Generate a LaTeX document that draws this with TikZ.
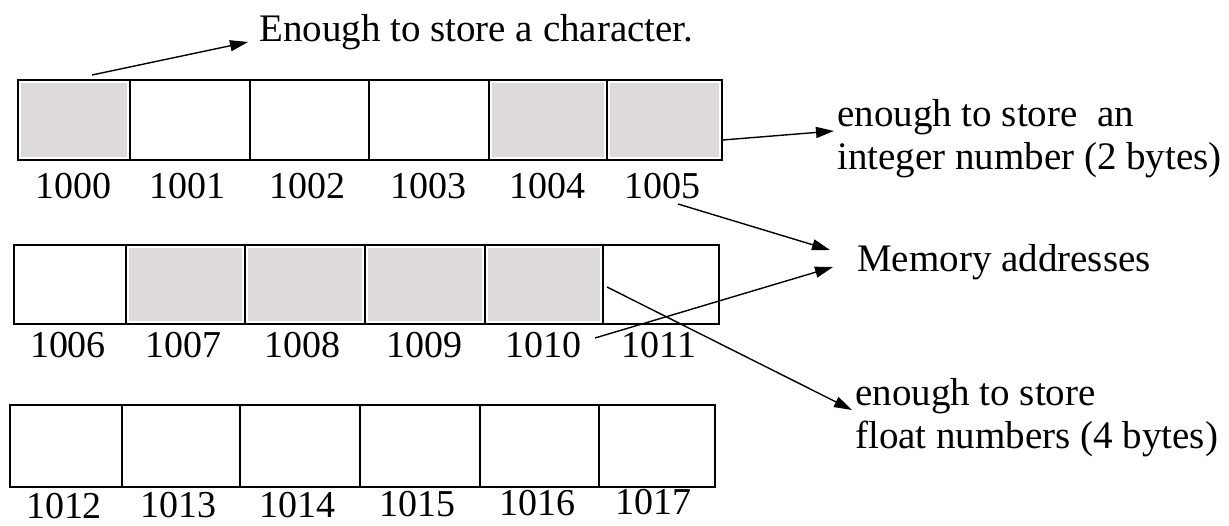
\documentclass[tikz,border=0pt]{standalone}
\usepackage{fontspec}
\setmainfont{Liberation Serif}
\usetikzlibrary{arrows.meta}
\definecolor{cellgray}{RGB}{222,217,219}
\tikzset{
  cell/.style={draw=black, line width=1.6pt, inner sep=0pt},
  plain/.style={},
  shaded/.style={path picture={\fill[cellgray] ([shift={(3pt,-3pt)}]path picture bounding box.north west) rectangle ([shift={(-3pt,3pt)}]path picture bounding box.south east);}},
  addr/.style={font=\fontsize{38}{40}\selectfont, inner sep=0pt},
  note/.style={font=\fontsize{39}{43}\selectfont, align=left, inner sep=0pt, anchor=west},
  arr/.style={line width=1.4pt, -{Triangle[length=18pt,width=11pt]}},
}
\begin{document}
\begin{tikzpicture}[x=1pt,y=-1pt]
\useasboundingbox (0,0) rectangle (1229,526);
% row 1
\foreach \a/\b/\n/\s in {18/130/1000/shaded,130/250/1001/plain,250/369/1002/plain,369/489/1003/plain,489/607/1004/shaded,607/722/1005/shaded}
  \node[cell,\s,minimum width={(\b-\a)*1pt},minimum height=80pt] (c\n) at ({(\a+\b)/2},120) {};
% row 2
\foreach \a/\b/\n/\s in {14/126/1006/plain,126/245/1007/shaded,245/365/1008/shaded,365/485/1009/shaded,485/603/1010/shaded,603/719/1011/plain}
  \node[cell,\s,minimum width={(\b-\a)*1pt},minimum height=79pt] (c\n) at ({(\a+\b)/2},284.5) {};
% row 3
\foreach \a/\b/\n/\s in {10/122/1012/plain,122/240/1013/plain,240/360/1014/plain,360/480/1015/plain,480/599/1016/plain,599/715/1017/plain}
  \node[cell,\s,minimum width={(\b-\a)*1pt},minimum height=82pt] (c\n) at ({(\a+\b)/2},446) {};
% labels
\foreach \x/\y/\n in {73/186/1000,187/186/1001,307/186/1002,428/186/1003,547/186/1004,662/186/1005,
  68/345/1006,183/345/1007,302/345/1008,424/345/1009,543/345/1010,659/345/1011,
  64/506/1012,178/505.5/1013,297/505/1014,417/504/1015,537/503/1016,653/502/1017}
  \node[addr] (l\n) at (\x,\y) {\n};
% notes
\node[note] (nchar) at (259,32) {Enough to store a character.};
\node[note] (nint) at (837,139) {enough to store\ \ an\\integer number (2 bytes)};
\node[note] (nmem) at (857,262) {Memory addresses};
\node[note] (nflt) at (855,418) {enough to store\\float numbers (4 bytes)};
% connector ends
\coordinate (s1) at (92,75);
\coordinate (t1) at (248,42);
\coordinate (t2) at (834,131);
\coordinate (s3) at (678,204);
\coordinate (t3) at (830,250);
\coordinate (s4) at (595,338);
\coordinate (t4) at (833,267);
\coordinate (s5) at (607,287);
\coordinate (t5) at (852,410);
% connectors
\draw[arr] (s1) -- (t1);
\draw[arr] ([yshift=-20pt]c1005.east) -- (t2);
\draw[arr] (s3) -- (t3);
\draw[arr] (s4) -- (t4);
\draw[arr] (s5) -- (t5);
\end{tikzpicture}
\end{document}
